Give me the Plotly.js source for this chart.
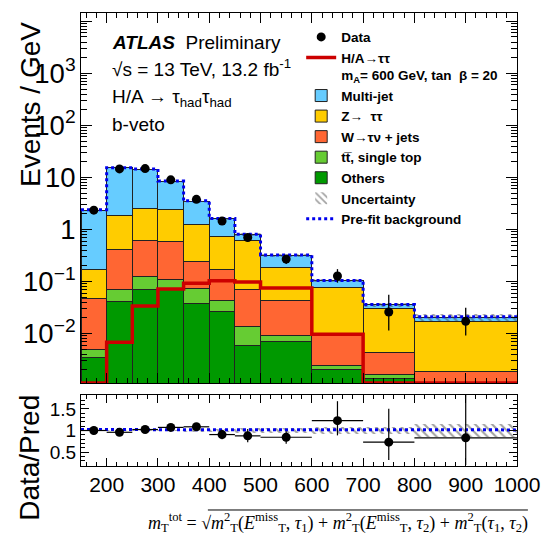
<!DOCTYPE html>
<html><head><meta charset="utf-8">
<script src="https://cdn.plot.ly/plotly-3.0.1.min.js"></script>
<style>html,body{margin:0;padding:0;background:#fff}</style>
</head><body>
<div id="chart" style="width:547px;height:540px"></div>
<script>
// ---- data (Events / GeV), bins in GeV ----
const binEdges = [150,200,250,300,350,400,450,500,600,700,800,1000];
const others   = [0.0035,0.041,0.069,0.069,0.038,0.027,0.0059,0.0072,0.0020,0.0014,0];
const ttbar    = [0.0014,0.030,0.057,0.039,0.036,0.016,0.0079,0.0018,0.0004,0.0002,0];
const wjets    = [0.042,0.35,0.48,0.48,0.166,0.127,0.055,0.035,0.0069,0.0028,0.0019];
const ztautau  = [0.123,1.40,1.97,1.84,1.01,0.56,0.54,0.146,0.067,0.0256,0.0151];
const multijet = [2.18,13.4,11.9,5.97,2.25,0.87,0.19,0.13,0.028,0.0056,0.0037];
const signal   = [0,0.0068,0.034,0.072,0.093,0.104,0.098,0.075,0.0097,0,0];
const prefit   = [2.4,15.3,14.6,8.5,3.55,1.62,0.81,0.325,0.105,0.036,0.021];
const dataVals = [2.35,14.6,14.8,9.0,3.8,1.45,0.70,0.27,0.128,0.026,0.0172];
const dataErrUp = [0.2,0.55,0.55,0.42,0.28,0.17,0.12,0.052,0.045,0.030,0.014];
const dataErrDn = [0.2,0.55,0.55,0.42,0.28,0.17,0.12,0.052,0.033,0.0145,0.008];
const ratioErrUp = [0.09,0.04,0.04,0.05,0.08,0.11,0.16,0.14,0.45,0.77,1.0];
const ratioErrDn = [0.09,0.04,0.04,0.05,0.08,0.11,0.15,0.15,0.34,0.41,0.63];
const relUnc   = [0.02,0.02,0.02,0.02,0.03,0.04,0.05,0.06,0.08,0.09,0.15];

const yRange = [-2.95, 4.16];
const xRange = [150, 1000];
const rRange = [0.18, 1.82];
const yMin = Math.pow(10, yRange[0]);

const centers = binEdges.slice(0,-1).map((e,i)=>(e+binEdges[i+1])/2);
const widths  = binEdges.slice(0,-1).map((e,i)=>binEdges[i+1]-e);
const halfW   = widths.map(w=>w/2);
const total   = centers.map((_,i)=>others[i]+ttbar[i]+wjets[i]+ztautau[i]+multijet[i]);
const ratio   = dataVals.map((d,i)=>d/total[i]);
const prefitRatio = prefit.map((p,i)=>p/total[i]);

function step(vals){
  const xs=[], ys=[];
  vals.forEach((v,i)=>{ xs.push(binEdges[i], binEdges[i+1]); ys.push(v,v); });
  return {xs, ys};
}
function stackBar(name, vals, color, rank){
  return {type:'bar', x:centers, y:vals, width:widths, name:name, legendrank:rank,
    marker:{color:color, line:{color:'#222', width:1}}, xaxis:'x', yaxis:'y', hoverinfo:'skip'};
}
const hatch = {shape:'\\', fgcolor:'#444', size:6, solidity:0.35, fillmode:'overlay'};

const sigStep = step(signal.map(v=> v>0 ? v : yMin));
const preStep = step(prefit);
const preRStep = step(prefitRatio);

const traces = [
  stackBar('Others', others, '#009900', 7),
  stackBar('tt\u0305, single top', ttbar, '#66CC33', 6),
  stackBar('W\u2192\u03C4\u03BD + jets', wjets, '#FF6633', 5),
  stackBar('Z\u2192  \u03C4\u03C4', ztautau, '#FFCC00', 4),
  stackBar('Multi-jet', multijet, '#66CCFF', 3),
  {type:'bar', x:centers, y:total.map((t,i)=>2*t*relUnc[i]), base:total.map((t,i)=>t*(1-relUnc[i])),
   width:widths, name:'Uncertainty', legendrank:8, xaxis:'x', yaxis:'y', hoverinfo:'skip',
   marker:{color:'rgba(0,0,0,0)', line:{width:0}, pattern:hatch}},
  {type:'scatter', mode:'lines', x:sigStep.xs, y:sigStep.ys, name:'H/A\u2192\u03C4\u03C4<br>m<sub>A</sub>= 600 GeV, tan  \u03B2 = 20', legendrank:2,
   line:{color:'#CC0000', width:3.5}, xaxis:'x', yaxis:'y', hoverinfo:'skip'},
  {type:'scatter', mode:'lines', x:preStep.xs, y:preStep.ys, name:'Pre-fit background', legendrank:9,
   line:{color:'#0000EE', width:3, dash:'dot'}, xaxis:'x', yaxis:'y', hoverinfo:'skip'},
  {type:'scatter', mode:'markers', x:centers, y:dataVals, name:'Data', legendrank:1,
   marker:{color:'black', size:9},
   error_y:{type:'data', symmetric:false, array:dataErrUp, arrayminus:dataErrDn, color:'black', thickness:1.3, width:0},
   xaxis:'x', yaxis:'y', hoverinfo:'skip'},
  // ratio panel
  {type:'bar', x:centers, y:relUnc.map(u=>2*u), base:relUnc.map(u=>1-u), width:widths, showlegend:false,
   xaxis:'x2', yaxis:'y2', hoverinfo:'skip',
   marker:{color:'rgba(0,0,0,0)', line:{width:0}, pattern:hatch}},
  {type:'scatter', mode:'lines', x:preRStep.xs, y:preRStep.ys, showlegend:false,
   line:{color:'#0000EE', width:3, dash:'dot'}, xaxis:'x2', yaxis:'y2', hoverinfo:'skip'},
  {type:'scatter', mode:'markers', x:centers, y:ratio, showlegend:false,
   marker:{color:'black', size:9},
   error_x:{type:'data', array:halfW, color:'black', thickness:1.2, width:0},
   error_y:{type:'data', symmetric:false, array:ratioErrUp, arrayminus:ratioErrDn, color:'black', thickness:1.2, width:0},
   xaxis:'x2', yaxis:'y2', hoverinfo:'skip'}
];

const axCommon = {showline:true, linecolor:'black', linewidth:1, mirror:'ticks', ticks:'inside',
  tickcolor:'black', tickwidth:1, showgrid:false, zeroline:false, layer:'above traces'};

const layout = {
  width:547, height:540,
  margin:{l:81, r:30, t:13, b:74, pad:0},
  paper_bgcolor:'white', plot_bgcolor:'white',
  barmode:'stack', bargap:0,
  font:{family:'Liberation Sans, Arial, sans-serif', color:'black', size:21},
  showlegend:true,
  legend:{x:0.505, y:0.981, xanchor:'left', yanchor:'top', bgcolor:'rgba(0,0,0,0)',
    font:{size:13.5, weight:'bold'}, valign:'top', itemwidth:30, traceorder:'normal'},
  xaxis:Object.assign({}, axCommon, {domain:[0,1], anchor:'y', range:xRange, showticklabels:false,
    tickmode:'linear', tick0:0, dtick:100, ticklen:10,
    minor:{ticks:'inside', ticklen:5, dtick:20, tick0:0, tickcolor:'black', tickwidth:1}}),
  yaxis:Object.assign({}, axCommon, {domain:[0.1832,1], anchor:'x', type:'log', range:yRange,
    tickmode:'linear', tick0:0, dtick:1, exponentformat:'power', labelalias:{'10<sup>4</sup>':''},
    ticklen:11, tickfont:{size:22},
    minor:{ticks:'inside', ticklen:6, dtick:'D1', tickcolor:'black', tickwidth:1}}),
  xaxis2:Object.assign({}, axCommon, {domain:[0,1], anchor:'y2', range:xRange, matches:'x',
    tickmode:'linear', tick0:0, dtick:100, ticklen:8, tickfont:{size:21},
    minor:{ticks:'inside', ticklen:4, dtick:20, tick0:0, tickcolor:'black', tickwidth:1}}),
  yaxis2:Object.assign({}, axCommon, {domain:[0,0.1567], anchor:'x2', range:rRange,
    tickmode:'linear', tick0:0, dtick:0.5, ticklen:8, tickfont:{size:19},
    minor:{ticks:'inside', ticklen:4, dtick:0.1, tick0:0, tickcolor:'black', tickwidth:1}}),
  shapes:[
    // radical overline of the x-axis formula
    {type:'line', xref:'paper', yref:'paper', x0:0.291, x1:1.025, y0:-0.0971, y1:-0.0971,
     line:{color:'black', width:1}}
  ],
  annotations:[
    {xref:'paper', yref:'paper', x:0.0665, y:0.934, xanchor:'left', yanchor:'middle', showarrow:false,
     text:'<b><i>ATLAS</i></b>&nbsp; Preliminary', font:{size:19}},
    {xref:'paper', yref:'paper', x:0.0665, y:0.878, xanchor:'left', yanchor:'middle', showarrow:false,
     text:'\u221As = 13 TeV, 13.2 fb<sup>-1</sup>', font:{size:19}},
    {xref:'paper', yref:'paper', x:0.0665, y:0.812, xanchor:'left', yanchor:'middle', showarrow:false,
     text:'H/A \u2192 \u03C4<sub>had</sub>\u03C4<sub>had</sub>', font:{size:19}},
    {xref:'paper', yref:'paper', x:0.0665, y:0.753, xanchor:'left', yanchor:'middle', showarrow:false,
     text:'b-veto', font:{size:19}},
    {xref:'paper', yref:'paper', x:-0.117, y:0.799, xanchor:'center', yanchor:'middle', showarrow:false,
     textangle:-90, text:'Events / GeV', font:{size:28}},
    {xref:'paper', yref:'paper', x:-0.117, y:0.018, xanchor:'center', yanchor:'middle', showarrow:false,
     textangle:-90, text:'Data/Pred', font:{size:28}},
    {xref:'paper', yref:'paper', x:1.03, y:-0.124, xanchor:'right', yanchor:'middle', showarrow:false,
     font:{family:'Liberation Serif, Times New Roman, serif', size:18},
     text:'<i>m</i><sub>T</sub><sup>tot</sup> = \u221A<i>m</i><sup>2</sup><sub>T</sub>(<i>E</i><sup>miss</sup><sub>T</sub>, <i>\u03C4</i><sub>1</sub>) + <i>m</i><sup>2</sup><sub>T</sub>(<i>E</i><sup>miss</sup><sub>T</sub>, <i>\u03C4</i><sub>2</sub>) + <i>m</i><sup>2</sup><sub>T</sub>(<i>\u03C4</i><sub>1</sub>, <i>\u03C4</i><sub>2</sub>)'}
  ]
};

Plotly.newPlot('chart', traces, layout, {staticPlot:true, displayModeBar:false});
</script>
</body></html>
